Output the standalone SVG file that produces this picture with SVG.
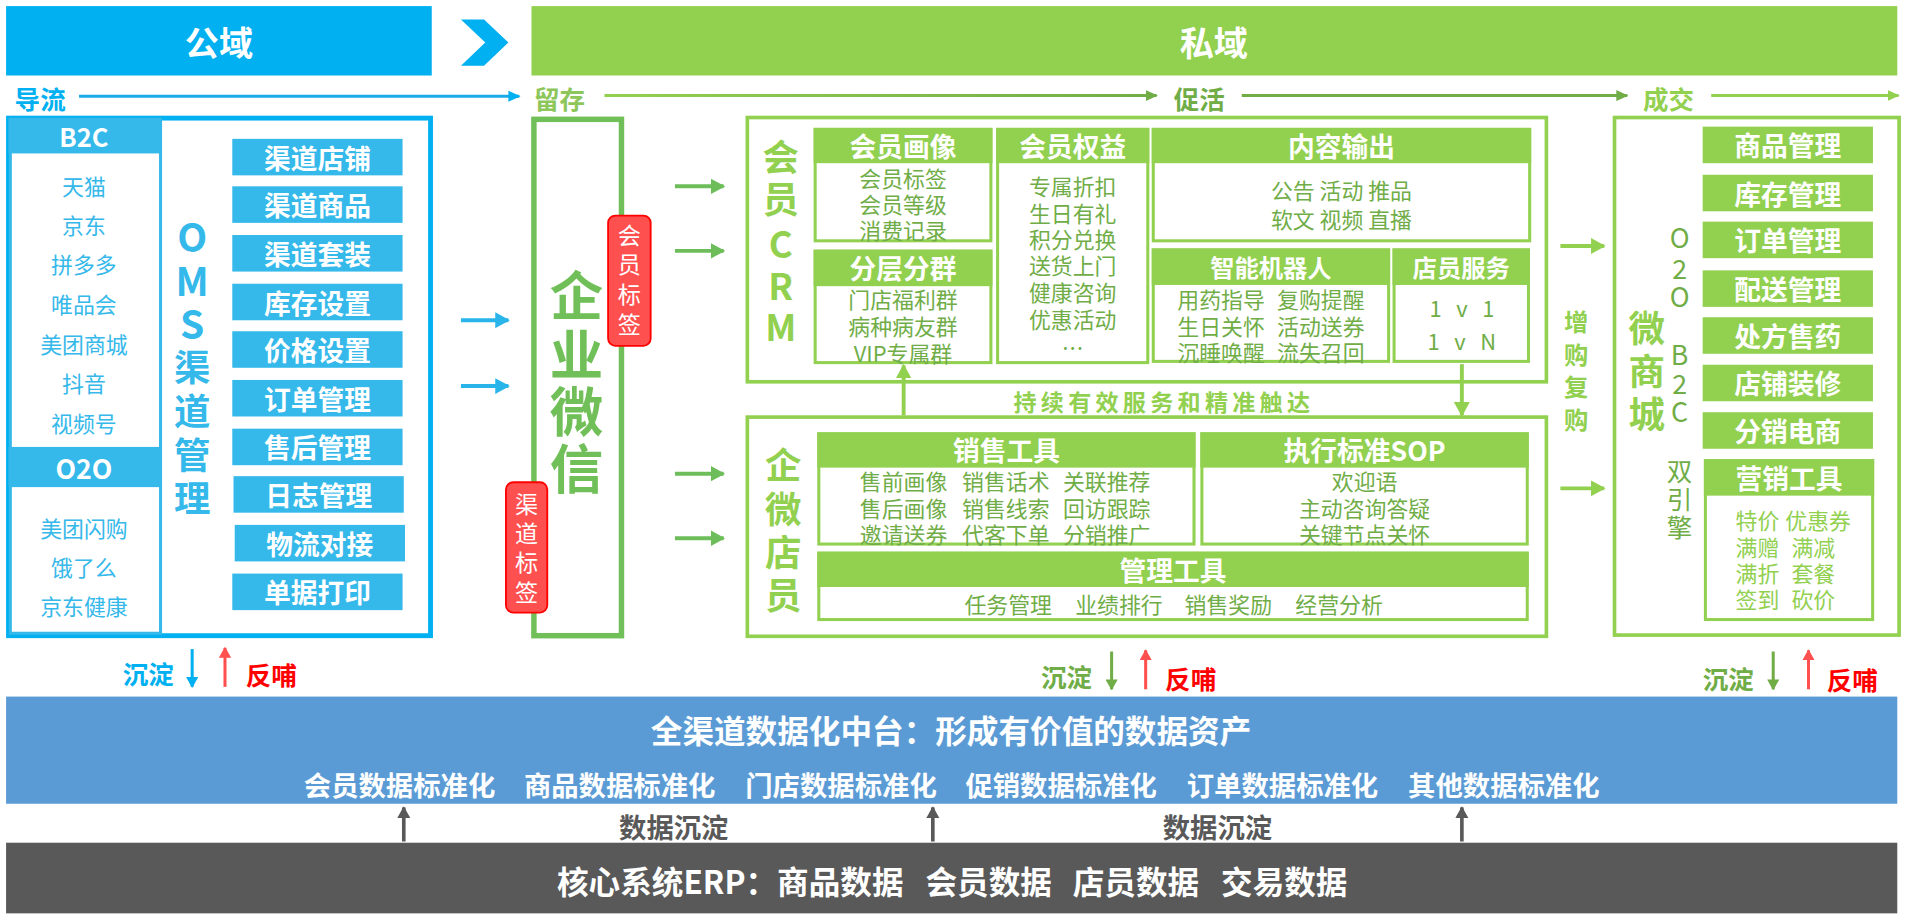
<svg xmlns="http://www.w3.org/2000/svg" width="1907" height="917" viewBox="0 0 1907 917">
<defs>
<style>
text{font-family:"Noto Sans CJK SC","Noto Sans",sans-serif;dominant-baseline:central;text-anchor:middle}
.b{font-weight:700}
.w{fill:#fff}
.sky{fill:#00B0F0}
.lb{fill:#35B8EA}
.lg{fill:#92D050}
.dg{fill:#70AD47}
.qw{fill:#71BF59}
.red{fill:#FF0000}
.gr{fill:#595959}
.st{text-anchor:start}
.btnB{fill:#35B8EA}
.btnG{fill:#92D050}
.boxG{fill:#fff;stroke:#92D050;stroke-width:2.5}
.hdrG{fill:#92D050}
.hdr{font-size:22px;font-weight:700;fill:#fff}
.hdr20{font-size:20px;font-weight:700;fill:#fff}
.body{font-size:18px;fill:#70AD47}
.btxt{font-size:22px;font-weight:700;fill:#fff}
.plat{font-size:18px;fill:#35B8EA}
.tag{fill:#FF5050;stroke:#FF0000;stroke-width:1.5}
.tagt{font-size:19px;fill:#fff}
.stage{font-size:21px;font-weight:700}
.fb{font-size:21px;font-weight:700}
</style>
<linearGradient id="g-keep" gradientUnits="userSpaceOnUse" x1="497" y1="0" x2="951" y2="0">
<stop offset="0" stop-color="#92D050"/><stop offset="1" stop-color="#70AD47"/>
</linearGradient>
<marker id="ah-sky" viewBox="0 0 10 10" refX="9" refY="5" markerWidth="10" markerHeight="9" markerUnits="userSpaceOnUse" orient="auto" preserveAspectRatio="none"><path d="M0,0L10,5L0,10z" fill="#00B0F0"/></marker>
<marker id="ah-keep" viewBox="0 0 10 10" refX="9" refY="5" markerWidth="10" markerHeight="9" markerUnits="userSpaceOnUse" orient="auto" preserveAspectRatio="none"><path d="M0,0L10,5L0,10z" fill="#70AD47"/></marker>
<marker id="ah-lg-s" viewBox="0 0 10 10" refX="9" refY="5" markerWidth="10" markerHeight="9" markerUnits="userSpaceOnUse" orient="auto" preserveAspectRatio="none"><path d="M0,0L10,5L0,10z" fill="#92D050"/></marker>
<marker id="ah-blue" viewBox="0 0 10 10" refX="9" refY="5" markerWidth="12" markerHeight="13" markerUnits="userSpaceOnUse" orient="auto" preserveAspectRatio="none"><path d="M0,0L10,5L0,10z" fill="#29B5EA"/></marker>
<marker id="ah-green" viewBox="0 0 10 10" refX="9" refY="5" markerWidth="12" markerHeight="13" markerUnits="userSpaceOnUse" orient="auto" preserveAspectRatio="none"><path d="M0,0L10,5L0,10z" fill="#6DBE5A"/></marker>
<marker id="ah-lg" viewBox="0 0 10 10" refX="9" refY="5" markerWidth="12" markerHeight="13" markerUnits="userSpaceOnUse" orient="auto" preserveAspectRatio="none"><path d="M0,0L10,5L0,10z" fill="#92D050"/></marker>
<marker id="ah-sd-blue" viewBox="0 0 10 10" refX="9" refY="5" markerWidth="9" markerHeight="10" markerUnits="userSpaceOnUse" orient="auto" preserveAspectRatio="none"><path d="M0,0L10,5L0,10z" fill="#00B0F0"/></marker>
<marker id="ah-sd-green" viewBox="0 0 10 10" refX="9" refY="5" markerWidth="9" markerHeight="10" markerUnits="userSpaceOnUse" orient="auto" preserveAspectRatio="none"><path d="M0,0L10,5L0,10z" fill="#70AD47"/></marker>
<marker id="ah-red" viewBox="0 0 10 10" refX="9" refY="5" markerWidth="9" markerHeight="10" markerUnits="userSpaceOnUse" orient="auto" preserveAspectRatio="none"><path d="M0,0L10,5L0,10z" fill="#FF5050"/></marker>
<marker id="ah-gray" viewBox="0 0 10 10" refX="9" refY="5" markerWidth="10" markerHeight="11" markerUnits="userSpaceOnUse" orient="auto" preserveAspectRatio="none"><path d="M0,0L10,5L0,10z" fill="#595959"/></marker>
</defs>
<rect width="1907" height="917" fill="#fff"/>
<g transform="scale(1.2162,1.2178)">

<g id="public-domain">
<rect x="5" y="5" width="350" height="57" fill="#00B0F0"/>
<text x="180" y="33.5" class="b w" font-size="28">公域</text>
</g>
<g id="chevron"><polygon points="379,16 398,16 418,35 398,54 379,54 399,35" fill="#00B0F0"/></g>
<g id="private-domain">
<rect x="437" y="5" width="1123" height="57" fill="#92D050"/>
<text x="998" y="33.5" class="b w" font-size="28">私域</text>
</g>

<g id="stage-labels">
<text x="33" y="80" class="stage sky">导流</text>
<text x="460" y="80" class="stage" fill="#8DC65A">留存</text>
<text x="986" y="80" class="stage dg">促活</text>
<text x="1372" y="80" class="stage lg">成交</text>
</g>

<g id="oms">
<rect x="7" y="97" width="347" height="425" fill="#fff" stroke="#00B0F0" stroke-width="4"/>
<rect x="8.5" y="98" width="123.5" height="422" fill="none" stroke="#35B8EA" stroke-width="2.5"/>
<rect x="7" y="97" width="125" height="29" class="btnB"/>
<text x="69" y="111.5" class="b w" font-size="21">B2C</text>
<rect x="7" y="367" width="126" height="33" class="btnB"/>
<text x="69" y="384" class="b w" font-size="22">O2O</text>
<text x="69" y="152" class="plat">天猫</text>
<text x="69" y="184" class="plat">京东</text>
<text x="69" y="216" class="plat">拼多多</text>
<text x="69" y="249" class="plat">唯品会</text>
<text x="69" y="282" class="plat">美团商城</text>
<text x="69" y="314" class="plat">抖音</text>
<text x="69" y="347" class="plat">视频号</text>
<text x="69" y="433" class="plat">美团闪购</text>
<text x="69" y="465" class="plat">饿了么</text>
<text x="69" y="497" class="plat">京东健康</text>
<text class="b lb" font-size="32"><tspan x="158" y="193">O</tspan><tspan x="158" y="229">M</tspan><tspan x="158" y="264">S</tspan><tspan x="158" y="300" font-size="30">渠</tspan><tspan x="158" y="336" font-size="30">道</tspan><tspan x="158" y="372" font-size="30">管</tspan><tspan x="158" y="407" font-size="30">理</tspan></text>
<g id="oms-btn-1"><rect x="191" y="114" width="140" height="30" class="btnB"/><text x="261" y="129" class="btxt">渠道店铺</text></g>
<g id="oms-btn-2"><rect x="191" y="153" width="140" height="30" class="btnB"/><text x="261" y="168" class="btxt">渠道商品</text></g>
<g id="oms-btn-3"><rect x="191" y="193" width="140" height="30" class="btnB"/><text x="261" y="208" class="btxt">渠道套装</text></g>
<g id="oms-btn-4"><rect x="191" y="233" width="140" height="30" class="btnB"/><text x="261" y="248" class="btxt">库存设置</text></g>
<g id="oms-btn-5"><rect x="191" y="272" width="140" height="30" class="btnB"/><text x="261" y="287" class="btxt">价格设置</text></g>
<g id="oms-btn-6"><rect x="191" y="312" width="140" height="30" class="btnB"/><text x="261" y="327" class="btxt">订单管理</text></g>
<g id="oms-btn-7"><rect x="191" y="352" width="140" height="30" class="btnB"/><text x="261" y="367" class="btxt">售后管理</text></g>
<g id="oms-btn-8"><rect x="192" y="391" width="140" height="30" class="btnB"/><text x="262" y="406" class="btxt">日志管理</text></g>
<g id="oms-btn-9"><rect x="193" y="431" width="140" height="30" class="btnB"/><text x="263" y="446" class="btxt">物流对接</text></g>
<g id="oms-btn-10"><rect x="191" y="471" width="140" height="30" class="btnB"/><text x="261" y="486" class="btxt">单据打印</text></g>
</g>

<g id="wecom">
<rect x="439" y="98" width="72" height="424" fill="#fff" stroke="#71BF59" stroke-width="4.5"/>
<text class="b qw" font-size="44"><tspan x="474" y="240">企</tspan><tspan x="474" y="288">业</tspan><tspan x="474" y="335">微</tspan><tspan x="474" y="382">信</tspan></text>
</g>
<g id="tag-member">
<rect x="500" y="177" width="35" height="107" rx="6" class="tag"/>
<text class="tagt"><tspan x="517.5" y="192">会</tspan><tspan x="517.5" y="216">员</tspan><tspan x="517.5" y="241">标</tspan><tspan x="517.5" y="265">签</tspan></text>
</g>
<g id="tag-channel">
<rect x="416" y="396" width="34" height="107" rx="6" class="tag"/>
<text class="tagt"><tspan x="433" y="413">渠</tspan><tspan x="433" y="437">道</tspan><tspan x="433" y="461">标</tspan><tspan x="433" y="485">签</tspan></text>
</g>

<g id="crm">
<rect x="614.5" y="96.5" width="657" height="217" fill="none" stroke="#92D050" stroke-width="3"/>
<text class="b lg" font-size="30"><tspan x="642" y="127">会</tspan><tspan x="642" y="162">员</tspan><tspan x="642" y="199">C</tspan><tspan x="642" y="233">R</tspan><tspan x="642" y="267">M</tspan></text>
<g id="crm-portrait">
<rect x="670.25" y="106.25" width="144.5" height="91.5" class="boxG"/>
<rect x="669" y="105" width="147" height="29" class="hdrG"/>
<text x="742.5" y="119.5" class="hdr">会员画像</text>
<text class="body"><tspan x="742.5" y="145">会员标签</tspan><tspan x="742.5" y="167">会员等级</tspan><tspan x="742.5" y="188">消费记录</tspan></text>
</g>
<g id="crm-segment">
<rect x="670.25" y="206.25" width="144.5" height="91.5" class="boxG"/>
<rect x="669" y="205" width="147" height="30" class="hdrG"/>
<text x="742.5" y="220" class="hdr">分层分群</text>
<text class="body"><tspan x="742.5" y="245">门店福利群</tspan><tspan x="742.5" y="267">病种病友群</tspan><tspan x="742.5" y="289">VIP专属群</tspan></text>
</g>
<g id="crm-rights">
<rect x="820.25" y="106.25" width="123.5" height="191.5" class="boxG"/>
<rect x="819" y="105" width="126" height="29" class="hdrG"/>
<text x="882" y="119.5" class="hdr">会员权益</text>
<text class="body"><tspan x="882" y="152">专属折扣</tspan><tspan x="882" y="174">生日有礼</tspan><tspan x="882" y="195.5">积分兑换</tspan><tspan x="882" y="217">送货上门</tspan><tspan x="882" y="239">健康咨询</tspan><tspan x="882" y="261">优惠活动</tspan><tspan x="882" y="284">…</tspan></text>
</g>
<g id="crm-content">
<rect x="948.25" y="106.25" width="309.5" height="91.5" class="boxG"/>
<rect x="947" y="105" width="312" height="29" class="hdrG"/>
<text x="1103" y="119.5" class="hdr">内容输出</text>
<text class="body" font-size="20"><tspan x="1103" y="155">公告 活动 推品</tspan><tspan x="1103" y="179">软文 视频 直播</tspan></text>
</g>
<g id="crm-robot">
<rect x="948.25" y="205.25" width="193.5" height="91.5" class="boxG"/>
<rect x="947" y="204" width="196" height="30" class="hdrG"/>
<text x="1045" y="219" class="hdr20">智能机器人</text>
<text class="body"><tspan x="1004" y="245">用药指导</tspan><tspan x="1004" y="267">生日关怀</tspan><tspan x="1004" y="288">沉睡唤醒</tspan></text>
<text class="body"><tspan x="1086" y="245">复购提醒</tspan><tspan x="1086" y="267">活动送券</tspan><tspan x="1086" y="288">流失召回</tspan></text>
</g>
<g id="crm-staff-service">
<rect x="1146.25" y="205.25" width="110.5" height="91.5" class="boxG"/>
<rect x="1145" y="204" width="113" height="30" class="hdrG"/>
<text x="1201.5" y="219" class="hdr20">店员服务</text>
<text class="body" font-size="24" letter-spacing="4"><tspan x="1204" y="252">1 v 1</tspan><tspan x="1204" y="279">1 v N</tspan></text>
</g>
</g>

<g id="service-label">
<text x="957" y="329" class="b lg" font-size="19" letter-spacing="3.5">持续有效服务和精准触达</text>
</g>

<g id="wecom-staff">
<rect x="614.5" y="342.5" width="657" height="180" fill="none" stroke="#92D050" stroke-width="3"/>
<text class="b lg" font-size="30"><tspan x="644" y="380">企</tspan><tspan x="644" y="416">微</tspan><tspan x="644" y="452">店</tspan><tspan x="644" y="487">员</tspan></text>
<g id="staff-sales">
<rect x="673.25" y="356.25" width="308.5" height="90.5" class="boxG"/>
<rect x="672" y="355" width="311" height="29" class="hdrG"/>
<text x="827.5" y="369.5" class="hdr">销售工具</text>
<text class="body"><tspan x="743" y="394">售前画像</tspan><tspan x="743" y="416">售后画像</tspan><tspan x="743" y="438">邀请送券</tspan></text>
<text class="body"><tspan x="827" y="394">销售话术</tspan><tspan x="827" y="416">销售线索</tspan><tspan x="827" y="438">代客下单</tspan></text>
<text class="body"><tspan x="910" y="394">关联推荐</tspan><tspan x="910" y="416">回访跟踪</tspan><tspan x="910" y="438">分销推广</tspan></text>
</g>
<g id="staff-sop">
<rect x="988.25" y="356.25" width="267.5" height="90.5" class="boxG"/>
<rect x="987" y="355" width="270" height="29" class="hdrG"/>
<text x="1122" y="369.5" class="hdr">执行标准SOP</text>
<text class="body"><tspan x="1122" y="394">欢迎语</tspan><tspan x="1122" y="416">主动咨询答疑</tspan><tspan x="1122" y="438">关键节点关怀</tspan></text>
</g>
<g id="staff-manage">
<rect x="673.25" y="454.25" width="582.5" height="54.5" class="boxG"/>
<rect x="672" y="453" width="585" height="29" class="hdrG"/>
<text x="964.5" y="467.5" class="hdr">管理工具</text>
<text x="829" y="495.5" class="body" font-size="19">任务管理</text>
<text x="920" y="495.5" class="body" font-size="19">业绩排行</text>
<text x="1010" y="495.5" class="body" font-size="19">销售奖励</text>
<text x="1101" y="495.5" class="body" font-size="19">经营分析</text>
</g>
</g>

<g id="repurchase-label">
<text class="b lg" font-size="20"><tspan x="1296" y="263">增</tspan><tspan x="1296" y="290">购</tspan><tspan x="1296" y="316">复</tspan><tspan x="1296" y="343">购</tspan></text>
</g>

<g id="mall">
<rect x="1327.5" y="96.5" width="234" height="425" fill="none" stroke="#92D050" stroke-width="3"/>
<text class="b lg" font-size="30"><tspan x="1354" y="268">微</tspan><tspan x="1354" y="303">商</tspan><tspan x="1354" y="338">城</tspan></text>
<text class="dg" font-size="22"><tspan x="1381" y="194">O</tspan><tspan x="1381" y="219">2</tspan><tspan x="1381" y="242">O</tspan></text>
<text class="dg" font-size="22"><tspan x="1381" y="290">B</tspan><tspan x="1381" y="314">2</tspan><tspan x="1381" y="337">C</tspan></text>
<text class="dg" font-size="21"><tspan x="1381" y="385">双</tspan><tspan x="1381" y="408">引</tspan><tspan x="1381" y="431">擎</tspan></text>
<g id="mall-btn-1"><rect x="1400" y="104" width="140" height="30" class="btnG"/><text x="1470" y="119" class="btxt">商品管理</text></g>
<g id="mall-btn-2"><rect x="1400" y="143.5" width="140" height="30" class="btnG"/><text x="1470" y="158.5" class="btxt">库存管理</text></g>
<g id="mall-btn-3"><rect x="1400" y="182" width="140" height="30" class="btnG"/><text x="1470" y="197" class="btxt">订单管理</text></g>
<g id="mall-btn-4"><rect x="1400" y="222" width="140" height="30" class="btnG"/><text x="1470" y="237" class="btxt">配送管理</text></g>
<g id="mall-btn-5"><rect x="1400" y="260.5" width="140" height="30" class="btnG"/><text x="1470" y="275.5" class="btxt">处方售药</text></g>
<g id="mall-btn-6"><rect x="1400" y="299.5" width="140" height="30" class="btnG"/><text x="1470" y="314.5" class="btxt">店铺装修</text></g>
<g id="mall-btn-7"><rect x="1400" y="338.5" width="140" height="30" class="btnG"/><text x="1470" y="353.5" class="btxt">分销电商</text></g>
<g id="mall-marketing">
<rect x="1402.25" y="378.25" width="137.5" height="130.5" class="boxG"/>
<rect x="1401" y="377" width="140" height="30" class="hdrG"/>
<text x="1471" y="392" class="btxt">营销工具</text>
<text class="lg st" font-size="18"><tspan x="1427" y="426">特价</tspan><tspan x="1427" y="448">满赠</tspan><tspan x="1427" y="469.5">满折</tspan><tspan x="1427" y="491">签到</tspan></text>
<text class="lg st" font-size="18"><tspan x="1468" y="426">优惠券</tspan><tspan x="1473" y="448">满减</tspan><tspan x="1473" y="469.5">套餐</tspan><tspan x="1473" y="491">砍价</tspan></text>
</g>
</g>

<g id="feedback-labels">
<text x="122" y="552" class="fb sky">沉淀</text>
<text x="223" y="553" class="fb red">反哺</text>
<text x="877" y="555" class="fb dg">沉淀</text>
<text x="979" y="556" class="fb red">反哺</text>
<text x="1421" y="556" class="fb dg">沉淀</text>
<text x="1523" y="557" class="fb red">反哺</text>
</g>

<g id="data-platform">
<rect x="5" y="572" width="1555" height="88" fill="#5B9BD5"/>
<text x="782" y="599" class="b w" font-size="26">全渠道数据化中台：形成有价值的数据资产</text>
<text class="b w" font-size="22.5"><tspan x="328.5" y="644">会员数据标准化</tspan><tspan x="509.5" y="644">商品数据标准化</tspan><tspan x="691.5" y="644">门店数据标准化</tspan><tspan x="872.5" y="644">促销数据标准化</tspan><tspan x="1054.5" y="644">订单数据标准化</tspan><tspan x="1236.5" y="644">其他数据标准化</tspan></text>
</g>

<g id="data-settle-labels" class="b gr" font-size="22.5">
<text x="554" y="678">数据沉淀</text>
<text x="1001" y="678">数据沉淀</text>
</g>

<g id="erp">
<rect x="5" y="692" width="1555" height="58" fill="#595959"/>
<text class="b w st" font-size="26"><tspan x="458" y="723">核心系统ERP：商品数据</tspan><tspan x="761" y="723">会员数据</tspan><tspan x="882" y="723">店员数据</tspan><tspan x="1004" y="723">交易数据</tspan></text>
</g>

<g id="connectors" fill="none">
<line x1="65" y1="79" x2="427" y2="79" stroke="#1AAAE8" stroke-width="2.5" marker-end="url(#ah-sky)"/>
<line x1="497" y1="78.5" x2="951" y2="78.5" stroke="url(#g-keep)" stroke-width="2.5" marker-end="url(#ah-keep)"/>
<line x1="1021" y1="78.5" x2="1338" y2="78.5" stroke="#70AD47" stroke-width="2.5" marker-end="url(#ah-keep)"/>
<line x1="1407" y1="78.5" x2="1561" y2="78.5" stroke="#92D050" stroke-width="2.5" marker-end="url(#ah-lg-s)"/>

<line x1="379" y1="263" x2="418" y2="263" stroke="#29B5EA" stroke-width="3.2" marker-end="url(#ah-blue)"/>
<line x1="379" y1="317" x2="418" y2="317" stroke="#29B5EA" stroke-width="3.2" marker-end="url(#ah-blue)"/>

<line x1="555" y1="153" x2="595" y2="153" stroke="#6DBE5A" stroke-width="3.2" marker-end="url(#ah-green)"/>
<line x1="555" y1="206" x2="595" y2="206" stroke="#6DBE5A" stroke-width="3.2" marker-end="url(#ah-green)"/>
<line x1="555" y1="389" x2="595" y2="389" stroke="#6DBE5A" stroke-width="3.2" marker-end="url(#ah-green)"/>
<line x1="555" y1="442" x2="595" y2="442" stroke="#6DBE5A" stroke-width="3.2" marker-end="url(#ah-green)"/>

<line x1="743" y1="341" x2="743" y2="300" stroke="#92D050" stroke-width="3.2" marker-end="url(#ah-lg)"/>
<line x1="1202" y1="299" x2="1202" y2="341" stroke="#92D050" stroke-width="3.2" marker-end="url(#ah-lg)"/>

<line x1="1283" y1="202" x2="1319" y2="202" stroke="#92D050" stroke-width="3.2" marker-end="url(#ah-lg)"/>
<line x1="1283" y1="401" x2="1319" y2="401" stroke="#92D050" stroke-width="3.2" marker-end="url(#ah-lg)"/>

<line x1="158" y1="533" x2="158" y2="564" stroke="#00B0F0" stroke-width="2.5" marker-end="url(#ah-sd-blue)"/>
<line x1="185" y1="564" x2="185" y2="532" stroke="#FF5050" stroke-width="2.5" marker-end="url(#ah-red)"/>
<line x1="914" y1="535" x2="914" y2="566" stroke="#70AD47" stroke-width="2.5" marker-end="url(#ah-sd-green)"/>
<line x1="942" y1="566" x2="942" y2="534" stroke="#FF5050" stroke-width="2.5" marker-end="url(#ah-red)"/>
<line x1="1458" y1="535" x2="1458" y2="566" stroke="#70AD47" stroke-width="2.5" marker-end="url(#ah-sd-green)"/>
<line x1="1487" y1="566" x2="1487" y2="534" stroke="#FF5050" stroke-width="2.5" marker-end="url(#ah-red)"/>

<line x1="332" y1="691" x2="332" y2="663" stroke="#595959" stroke-width="3" marker-end="url(#ah-gray)"/>
<line x1="767" y1="691" x2="767" y2="663" stroke="#595959" stroke-width="3" marker-end="url(#ah-gray)"/>
<line x1="1202" y1="691" x2="1202" y2="663" stroke="#595959" stroke-width="3" marker-end="url(#ah-gray)"/>
</g>
</g>
</svg>
